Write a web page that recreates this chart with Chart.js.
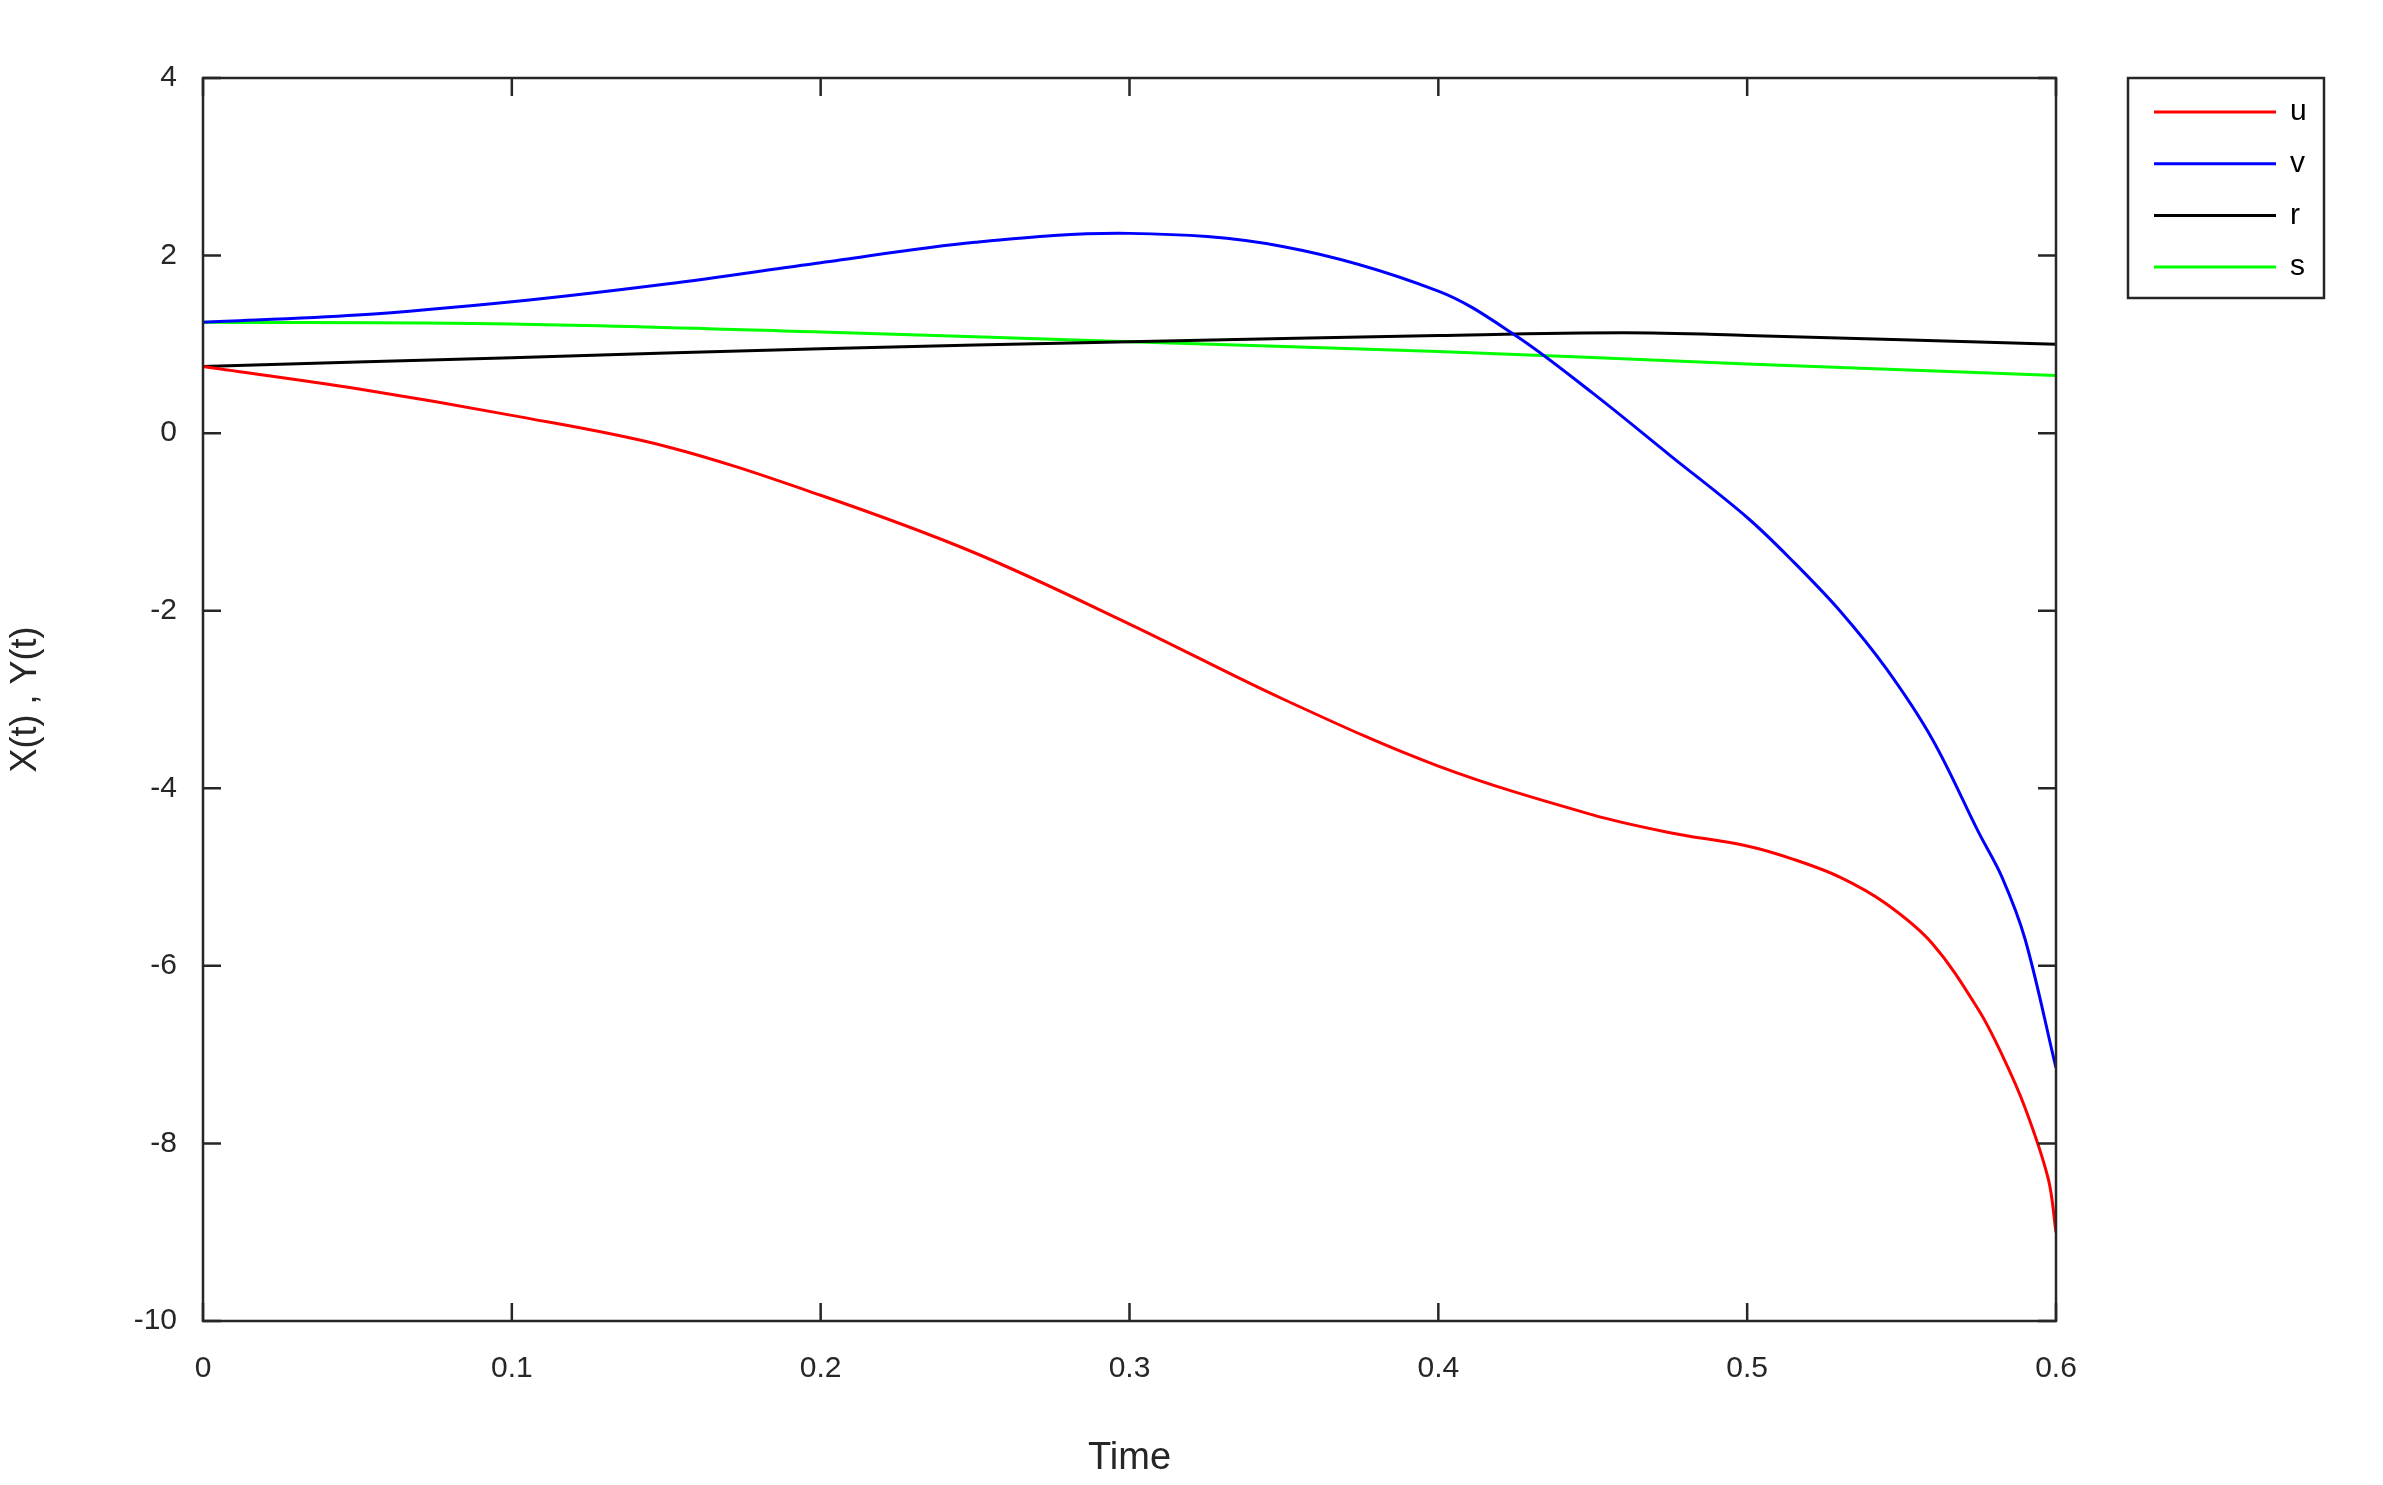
<!DOCTYPE html>
<html><head><meta charset="utf-8">
<script src="https://cdn.jsdelivr.net/npm/chart.js@4"></script>
<style>html,body{margin:0;padding:0;background:#fff}#w{width:2383px;height:1485px}</style>
</head><body><div id="w"><canvas id="c"></canvas></div>
<script>
const seriesNames = ['u','v','r','s'];
const seriesColors = ['#ff0000','#0000ff','#000000','#00ff00'];
const uT = [0,0.05,0.1,0.15,0.2,0.25,0.3,0.35,0.4,0.45,0.475,0.5,0.515,0.53,0.545,0.56,0.575,0.5825,0.59,0.5975,0.6];
const uV = [0.75,0.5,0.2,-0.15,-0.7,-1.35,-2.15,-3.0,-3.75,-4.3,-4.5,-4.65,-4.8,-5.0,-5.3,-5.75,-6.5,-7.0,-7.6,-8.4,-9.0];
const vT = [0,0.05,0.1,0.15,0.2,0.25,0.3,0.35,0.4,0.425,0.45,0.475,0.5,0.515,0.53,0.545,0.56,0.575,0.5825,0.59,0.6];
const vV = [1.25,1.33,1.48,1.68,1.92,2.15,2.25,2.1,1.6,1.1,0.45,-0.25,-0.95,-1.45,-2.0,-2.65,-3.45,-4.5,-5.0,-5.7,-7.15];
const rT = [0,0.1,0.2,0.3,0.4,0.46,0.5,0.6];
const rV = [0.75,0.85,0.95,1.03,1.1,1.13,1.1,1.0];
const sT = [0,0.1,0.2,0.3,0.4,0.5,0.6];
const sV = [1.25,1.23,1.14,1.03,0.92,0.78,0.65];
const xTicks = [0,0.1,0.2,0.3,0.4,0.5,0.6];
const yTicks = [-10,-8,-6,-4,-2,0,2,4];
const pts = (t,v)=>t.map((x,i)=>({x:x,y:v[i]}));
const allT=[uT,vT,rT,sT], allV=[uV,vV,rV,sV];
const F='"Liberation Sans", Arial, sans-serif';
const frame = {id:'frame', afterDraw(ch){
  const c=ch.ctx, a=ch.chartArea, xs=ch.scales.x, ys=ch.scales.y;
  c.save(); c.strokeStyle='#262626'; c.lineWidth=2.5;
  c.strokeRect(a.left,a.top,a.right-a.left,a.bottom-a.top);
  c.beginPath();
  xTicks.forEach(t=>{const p=xs.getPixelForValue(t);c.moveTo(p,a.bottom);c.lineTo(p,a.bottom-18);c.moveTo(p,a.top);c.lineTo(p,a.top+18);});
  yTicks.forEach(t=>{const p=ys.getPixelForValue(t);c.moveTo(a.left,p);c.lineTo(a.left+18,p);c.moveTo(a.right,p);c.lineTo(a.right-18,p);});
  c.stroke();
  // legend
  c.fillStyle='#fff'; c.fillRect(2128,78,196,220); c.strokeRect(2128,78,196,220);
  c.font='30px '+F; c.textBaseline='middle'; c.textAlign='left';
  seriesNames.forEach((n,i)=>{const y=112+i*51.7;c.strokeStyle=seriesColors[i];c.lineWidth=3;c.beginPath();c.moveTo(2154,y);c.lineTo(2276,y);c.stroke();c.fillStyle='#000';c.fillText(n,2290,y);});
  c.restore();
}};
new Chart(document.getElementById('c'),{
  type:'line',
  data:{datasets:seriesNames.map((n,i)=>({label:n,data:pts(allT[i],allV[i]),borderColor:seriesColors[i],borderWidth:3,pointRadius:0,tension:0.35,fill:false}))},
  options:{responsive:true,maintainAspectRatio:false,animation:false,
    layout:{padding:{top:78,right:327,left:0,bottom:0}},
    plugins:{legend:{display:false},tooltip:{enabled:false}},
    scales:{
      x:{type:'linear',min:0,max:0.6,grid:{display:false},border:{display:false},
        afterBuildTicks(s){s.ticks=xTicks.map(v=>({value:v}));},
        afterFit(s){s.height=164;},
        ticks:{font:{size:30,family:F},color:'#262626',padding:22,maxRotation:0,callback:v=>String(v)},
        title:{display:true,text:'Time',font:{size:38,family:F},color:'#262626',padding:{top:4}}},
      y:{min:-10,max:4,grid:{display:false},border:{display:false},
        afterBuildTicks(s){s.ticks=yTicks.map(v=>({value:v}));},
        afterFit(s){s.width=203;},
        ticks:{font:{size:30,family:F},color:'#262626',padding:18},
        title:{display:true,text:'X(t) , Y(t)',font:{size:36,family:F},color:'#262626',padding:{bottom:10}}}
    }},
  plugins:[frame]
});
</script></body></html>
